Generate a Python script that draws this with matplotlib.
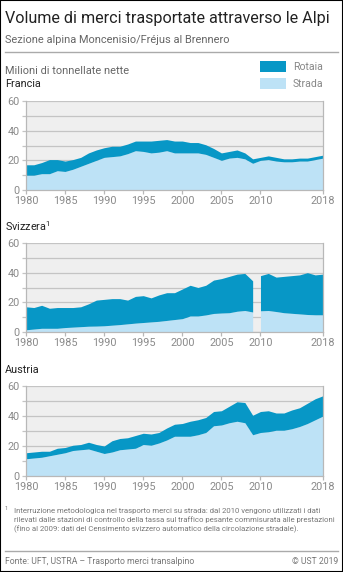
import numpy as np
import matplotlib
matplotlib.use("Agg")
import matplotlib.pyplot as plt
from matplotlib.patches import Rectangle
from matplotlib.lines import Line2D

plt.rcParams['font.family'] = ['Roboto', 'DejaVu Sans']

# Data (million net tonnes)
years = np.arange(1980, 2019)

fr_total = [17, 17, 18.5, 20.5, 20.5, 19.5, 20.5, 22, 25, 27,
            28.5, 29.5, 29.5, 31, 33, 33, 33, 33.5, 34, 33,
            33, 32, 32, 30.5, 28, 25, 26, 27, 25, 21,
            22, 23, 22, 21, 21, 21.5, 21.5, 22.5, 23.5]
fr_road = [10, 10, 11, 11, 13, 12.5, 14, 16, 18, 20,
           22, 22.5, 23, 24.5, 26.5, 26, 25, 25.5, 26.5, 25,
           25, 25, 25, 24, 22, 20, 21.5, 22, 21, 18,
           20, 20.5, 19.5, 19, 19, 19.5, 19.5, 20.5, 21.5]

ch_total = [17, 16.5, 18, 16, 16.5, 16.5, 16.5, 17, 19, 21.5,
            22, 22.5, 22.5, 21.5, 24, 24.5, 23, 25, 26.5, 26.5,
            29, 31.5, 30, 31.5, 35, 36, 37.5, 39, 39.5, 34.5,
            38, 39.5, 37, 37.5, 38, 38.5, 40, 38.5, 39]
ch_road = [1.5, 2, 2.5, 2.5, 2.5, 3, 3.3, 3.6, 3.9, 4,
           4.2, 4.6, 5, 5.5, 6, 6.4, 6.8, 7.2, 7.8, 8.4,
           9, 10.8, 10.8, 11.5, 12.5, 12.8, 13, 14, 14.5, 13.5,
           14.3, 14.5, 13.8, 13, 12.6, 12.2, 11.8, 11.6, 11.6]

at_total = [15.5, 16, 16.5, 16.5, 18.5, 19, 20.5, 21, 22.5, 21,
            20, 23.5, 25, 25.5, 27, 28.5, 28, 29, 32, 34.5,
            35, 36.5, 37.5, 39, 43, 43.5, 46.5, 49.5, 49, 40.5,
            43, 43.5, 42, 42, 44, 45.5, 48.5, 51.5, 53.5]
at_road = [11.5, 12, 12.5, 13.5, 14.5, 15.5, 17, 17.5, 18, 16.5,
           15, 16, 17.5, 18, 18.5, 21, 20.5, 22, 24, 26.5,
           26.5, 26.5, 27.5, 29, 33.5, 34, 35.5, 36.5, 35.5, 27.5,
           29, 29.5, 30.5, 30.5, 31.5, 33, 35, 37.5, 40]

xticks = [1980, 1985, 1990, 1995, 2000, 2005, 2010, 2018]

RAIL = '#0797c6'
ROAD = '#bde2f6'
BG = '#efefef'
GRID = '#c4c4c4'
DARK = '#222222'
GREY = '#777777'

W, H = 343, 572
fig = plt.figure(figsize=(W / 100, H / 100), dpi=100)


def fx(px):
    return px / W


def fy(py):
    return 1 - py / H


def panel(top, bottom, total, road, breaks=()):
    ax = fig.add_axes([fx(26), fy(bottom), fx(297), (bottom - top) / H])
    ax.set_facecolor(BG)
    total = np.array(total, float)
    road = np.array(road, float)
    # split series where the methodology changes
    cuts = [0] + [list(years).index(b) for b in breaks] + [len(years)]
    for a, b in zip(cuts[:-1], cuts[1:]):
        ax.fill_between(years[a:b], 0, road[a:b], color=ROAD, lw=0, zorder=2)
        ax.fill_between(years[a:b], road[a:b], total[a:b], color=RAIL, lw=0, zorder=2)
    ax.set_xlim(1980, 2018)
    ax.set_ylim(0, 60)
    ax.set_yticks(range(0, 61, 10))
    ax.set_yticklabels([str(v) if v % 20 == 0 else '' for v in range(0, 61, 10)])
    ax.set_xticks(xticks)
    ax.set_xticklabels([str(v) for v in xticks])
    ax.grid(axis='y', color=GRID, lw=0.9, zorder=1)
    ax.set_axisbelow(True)
    for side in ['left', 'right', 'bottom']:
        ax.spines[side].set_color('#b8b8b8')
        ax.spines[side].set_linewidth(0.9)
    ax.spines['top'].set_visible(False)
    ax.tick_params(axis='y', length=3, width=0.9, color=GRID, pad=1.5,
                   labelsize=7.8, labelcolor='#8a8a8a')
    ax.tick_params(axis='x', length=3, width=0.9, color='#b8b8b8', pad=1,
                   labelsize=7.8, labelcolor='#8a8a8a')
    return ax


panel(101, 190, fr_total, fr_road)
panel(243, 332, ch_total, ch_road, breaks=(2010,))
panel(386, 476, at_total, at_road)

# Titles and labels
fig.text(fx(5), fy(19), 'Volume di merci trasportate attraverso le Alpi',
         fontsize=11.6, color=DARK, va='center', ha='left')
fig.text(fx(5), fy(40), 'Sezione alpina Moncenisio/Fréjus al Brennero',
         fontsize=7.9, color='#666666', va='center', ha='left')
fig.add_artist(Line2D([fx(5), fx(338)], [fy(52), fy(52)], color='#aaaaaa', lw=1))

fig.text(fx(5), fy(71), 'Milioni di tonnellate nette', fontsize=7.9,
         color='#666666', va='center', ha='left')
fig.text(fx(5), fy(84), 'Francia', fontsize=7.8, color=DARK, va='center', ha='left')
fig.text(fx(5), fy(226), 'Svizzera$^{\\mathregular{1}}$', fontsize=7.8, color=DARK,
         va='center', ha='left')
fig.text(fx(5), fy(370), 'Austria', fontsize=7.8, color=DARK, va='center', ha='left')

# Legend
fig.add_artist(Rectangle((fx(260), fy(72)), fx(26), 11 / H, color=RAIL, lw=0))
fig.add_artist(Rectangle((fx(260), fy(89)), fx(26), 11 / H, color=ROAD, lw=0))
fig.text(fx(293), fy(67), 'Rotaia', fontsize=7.6, color='#888888', va='center')
fig.text(fx(293), fy(83.5), 'Strada', fontsize=7.6, color='#888888', va='center')

# Footnote and source
fig.text(fx(5), fy(509), '1', fontsize=4.2, color=GREY, va='center')
note = ('Interruzione metodologica nel trasporto merci su strada: dal 2010 vengono utilizzati i dati\n'
        'rilevati dalle stazioni di controllo della tassa sul traffico pesante commisurata alle prestazioni\n'
        '(fino al 2009: dati del Censimento svizzero automatico della circolazione stradale).')
fig.text(fx(14), fy(508), note, fontsize=5.55, color=GREY, va='top', ha='left',
         linespacing=1.4)
fig.add_artist(Line2D([fx(5), fx(338)], [fy(551), fy(551)], color='#aaaaaa', lw=1))
fig.text(fx(5), fy(562), 'Fonte: UFT, USTRA \u2013 Trasporto merci transalpino',
         fontsize=6.2, color=GREY, va='center', ha='left')
fig.text(fx(338), fy(562), '\u00a9 UST 2019', fontsize=6.2, color=GREY,
         va='center', ha='right')

# Outer frame
fig.add_artist(Rectangle((0, 0), 1, 1, fill=False, ec='black', lw=1.5,
                         transform=fig.transFigure))

fig.savefig('out.png', dpi=100, facecolor='white')
